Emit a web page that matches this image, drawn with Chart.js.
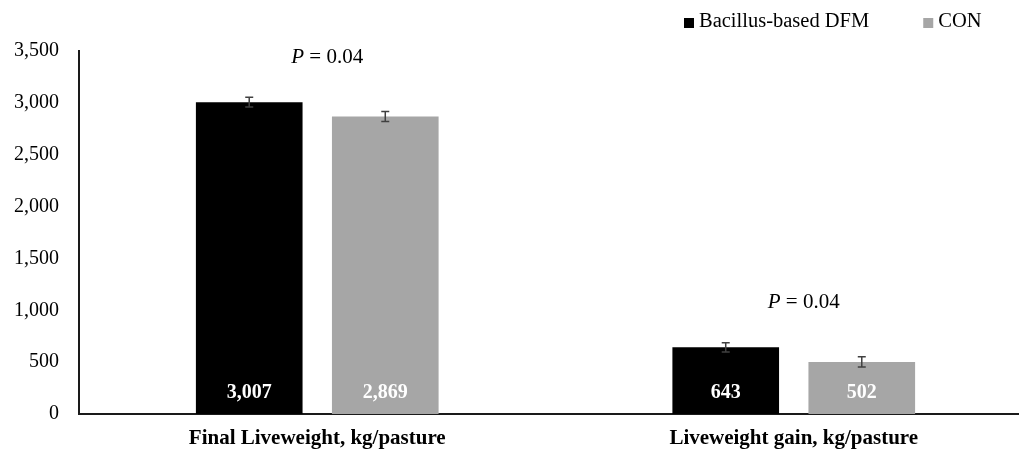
<!DOCTYPE html>
<html>
<head>
<meta charset="utf-8">
<script src="https://cdn.jsdelivr.net/npm/chart.js@4/dist/chart.umd.min.js"></script>
<style>
  html, body { margin: 0; padding: 0; background: #fff; }
  #wrap { width: 1019px; height: 450px; overflow: hidden; position: relative; }
  canvas { display: block; }
</style>
</head>
<body>
<div id="wrap"><canvas id="c" width="1035" height="450"></canvas></div>
<script>
const categories = ['Final Liveweight, kg/pasture', 'Liveweight gain, kg/pasture'];
const seriesNames = ['Bacillus-based DFM', 'CON'];
const dfmValues = [3007, 643];
const conValues = [2869, 502];
const dfmErrors = [48, 45];
const conErrors = [48, 50];
const pValues = ['0.04', '0.04'];
const yMax = 3500;
const yStep = 500;

const FONT = "'Liberation Serif', 'Times New Roman', serif";
const colors = ['#000000', '#A6A6A6'];
const errorSets = [dfmErrors, conErrors];

const overlayPlugin = {
  id: 'overlay',
  afterDatasetsDraw(chart) {
    const ctx = chart.ctx;
    const y = chart.scales.y;
    ctx.save();
    // error bars and value labels
    chart.data.datasets.forEach((ds, di) => {
      const meta = chart.getDatasetMeta(di);
      meta.data.forEach((bar, i) => {
        const v = ds.data[i];
        const e = errorSets[di][i];
        const yt = y.getPixelForValue(v + e);
        const yb = y.getPixelForValue(v - e);
        ctx.strokeStyle = '#404040';
        ctx.lineWidth = 1.5;
        ctx.beginPath();
        ctx.moveTo(bar.x, yt); ctx.lineTo(bar.x, yb);
        ctx.moveTo(bar.x - 4, yt); ctx.lineTo(bar.x + 4, yt);
        ctx.moveTo(bar.x - 4, yb); ctx.lineTo(bar.x + 4, yb);
        ctx.stroke();
        ctx.fillStyle = '#ffffff';
        ctx.font = 'bold 20px ' + FONT;
        ctx.textAlign = 'center';
        ctx.textBaseline = 'middle';
        ctx.fillText(v.toLocaleString('en-US'), bar.x, y.getPixelForValue(0) - 21);
      });
    });
    // P-value annotations
    const x = chart.scales.x;
    categories.forEach((c, i) => {
      let top = 0;
      chart.data.datasets.forEach((ds, di) => { top = Math.max(top, ds.data[i] + errorSets[di][i]); });
      const cy = y.getPixelForValue(top) - 40;
      const cx = x.getPixelForValue(i) + 10;
      const part1 = 'P';
      const part2 = ' = ' + pValues[i];
      ctx.textBaseline = 'middle';
      ctx.textAlign = 'left';
      ctx.fillStyle = '#000';
      ctx.font = 'italic 21px ' + FONT;
      const w1 = ctx.measureText(part1).width;
      ctx.font = '21px ' + FONT;
      const w2 = ctx.measureText(part2).width;
      const sx = cx - (w1 + w2) / 2;
      ctx.font = 'italic 21px ' + FONT;
      ctx.fillText(part1, sx, cy);
      ctx.font = '21px ' + FONT;
      ctx.fillText(part2, sx + w1, cy);
    });
    // legend
    ctx.font = '20.5px ' + FONT;
    ctx.textBaseline = 'middle';
    ctx.textAlign = 'left';
    let lx = 684;
    const ly = 22;
    chart.data.datasets.forEach((ds) => {
      ctx.fillStyle = ds.backgroundColor;
      ctx.fillRect(lx, ly - 4, 10, 10);
      ctx.fillStyle = '#000';
      ctx.fillText(ds.label, lx + 15, ly);
      lx += 15 + ctx.measureText(ds.label).width + 54;
    });
    ctx.restore();
  }
};

new Chart(document.getElementById('c'), {
  type: 'bar',
  data: {
    labels: categories,
    datasets: [
      { label: seriesNames[0], data: dfmValues, backgroundColor: colors[0] },
      { label: seriesNames[1], data: conValues, backgroundColor: colors[1] }
    ]
  },
  options: {
    responsive: false,
    animation: false,
    devicePixelRatio: 1,
    categoryPercentage: 0.571,
    barPercentage: 0.784,
    layout: { padding: { top: 51, left: 12, right: 3, bottom: 0 } },
    plugins: { legend: { display: false }, tooltip: { enabled: false } },
    scales: {
      x: {
        grid: { display: false, drawTicks: false },
        border: { display: true, color: '#1a1a1a', width: 2 },
        ticks: { color: '#000', padding: 12, font: { family: FONT, size: 21, weight: 'bold' }, maxRotation: 0 },
        afterFit(scale) { scale.height = 36; }
      },
      y: {
        min: 0, max: yMax,
        grid: { display: false, drawTicks: false },
        border: { display: true, color: '#1a1a1a', width: 2 },
        ticks: {
          stepSize: yStep, color: '#000', padding: 20,
          font: { family: FONT, size: 20 },
          callback: v => v.toLocaleString('en-US')
        },
        afterFit(scale) { scale.width = 67; }
      }
    }
  },
  plugins: [overlayPlugin]
});
</script>
</body>
</html>
